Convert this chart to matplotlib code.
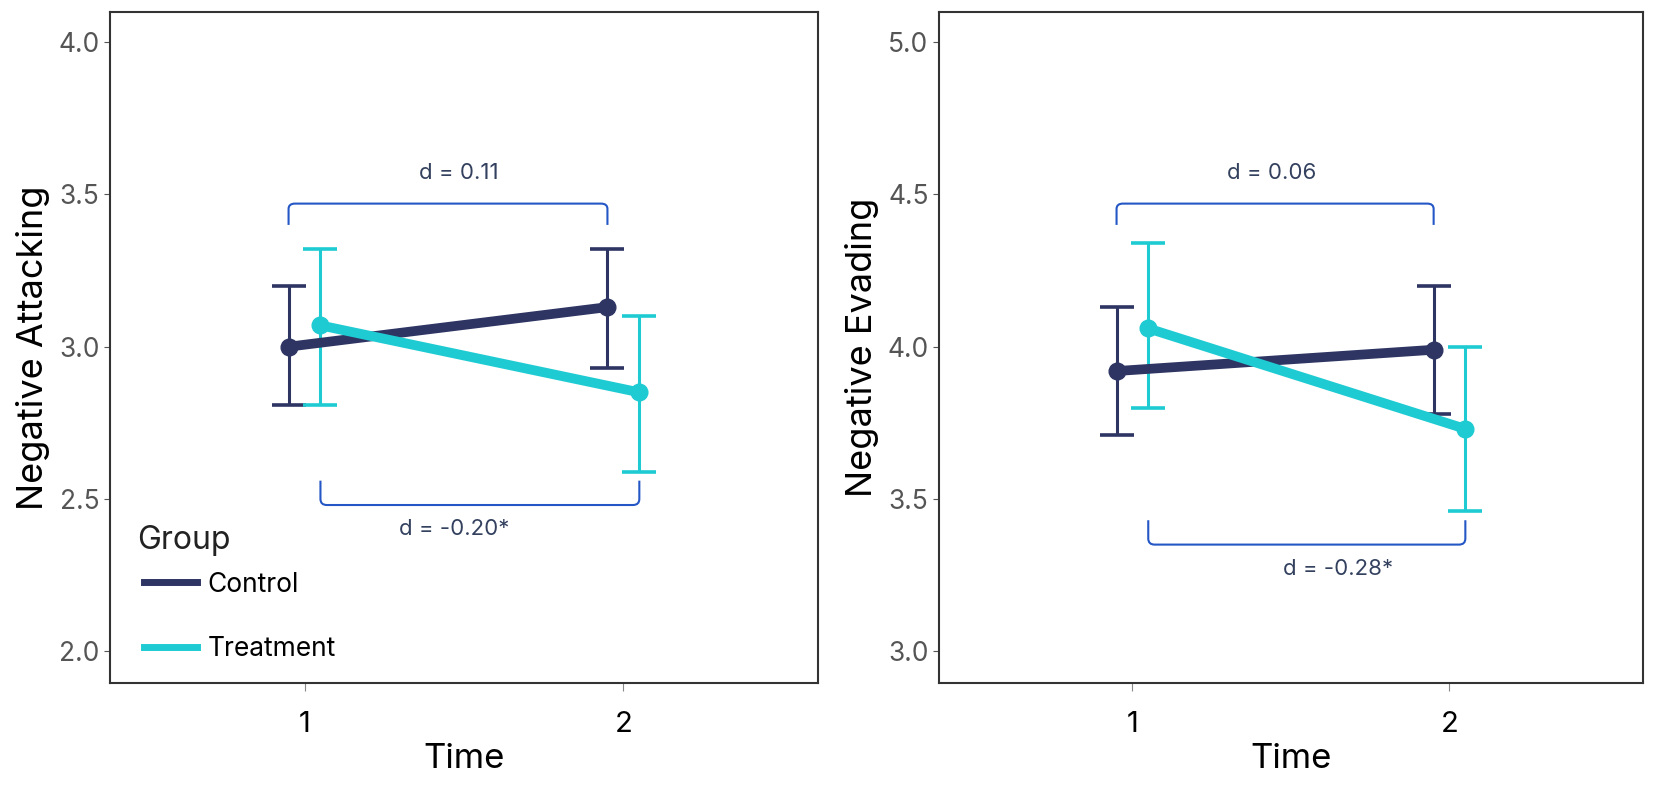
import matplotlib
matplotlib.use("Agg")
import matplotlib.pyplot as plt
from matplotlib.path import Path
import matplotlib.patches as patches

plt.rcParams['font.family'] = ['Inter', 'DejaVu Sans']

# data
times = [1, 2]
groups = ['Control', 'Treatment']

attack_mean = {'Control': [3.00, 3.13], 'Treatment': [3.07, 2.85]}
attack_lo = {'Control': [2.81, 2.93], 'Treatment': [2.81, 2.59]}
attack_hi = {'Control': [3.20, 3.32], 'Treatment': [3.32, 3.10]}

evade_mean = {'Control': [3.92, 3.99], 'Treatment': [4.06, 3.73]}
evade_lo = {'Control': [3.71, 3.78], 'Treatment': [3.80, 3.46]}
evade_hi = {'Control': [4.13, 4.20], 'Treatment': [4.34, 4.00]}

attack_d = ['d = 0.11', 'd = -0.20*']
evade_d = ['d = 0.06', 'd = -0.28*']

colors = {'Control': '#2e3563', 'Treatment': '#1fcbd2'}
offset = {'Control': -0.05, 'Treatment': 0.05}
bracket_col = '#2457c5'
text_col = '#33415f'


def bracket(ax, x0, x1, y, h):
    # bracket with slightly rounded corners; h>0 legs go down, h<0 legs go up
    verts = [(x0, y - h), (x0, y - h * 0.25), (x0, y), (x0 + 0.02, y),
             (x1 - 0.02, y), (x1, y), (x1, y - h * 0.25), (x1, y - h)]
    codes = [Path.MOVETO, Path.LINETO, Path.CURVE3, Path.CURVE3,
             Path.LINETO, Path.CURVE3, Path.CURVE3, Path.LINETO]
    ax.add_patch(patches.PathPatch(Path(verts, codes), fill=False,
                                   edgecolor=bracket_col, lw=1.5))


def panel(ax, mean, lo, hi, ylabel, ylim, yticks, dtext, top_y, bot_y, tpos):
    for g in groups:
        xs = [t + offset[g] for t in times]
        yerr = [[m - l for m, l in zip(mean[g], lo[g])],
                [h - m for m, h in zip(mean[g], hi[g])]]
        ax.errorbar(xs, mean[g], yerr=yerr, fmt='none', ecolor=colors[g],
                    elinewidth=2.2, capsize=12, capthick=2.6, zorder=2)
        ax.plot(xs, mean[g], color=colors[g], lw=7, marker='o',
                markersize=12, label=g, zorder=3)

    bracket(ax, 1 + offset['Control'], 2 + offset['Control'], top_y, 0.07)
    bracket(ax, 1 + offset['Treatment'], 2 + offset['Treatment'], bot_y, -0.08)
    ax.text(tpos[0][0], tpos[0][1], dtext[0], ha='center', va='center',
            fontsize=16, color=text_col)
    ax.text(tpos[1][0], tpos[1][1], dtext[1], ha='center', va='center',
            fontsize=16, color=text_col)

    ax.set_xlim(0.39, 2.61)
    ax.set_ylim(*ylim)
    ax.set_xticks(times)
    ax.set_yticks(yticks)
    ax.set_yticklabels(['%.1f' % v for v in yticks])
    ax.tick_params(axis='y', labelsize=19, colors='#555555', length=4,
                   labelcolor='#555555')
    ax.tick_params(axis='x', labelsize=21, colors='#888888', length=6,
                   labelcolor='black', pad=14)
    ax.set_xlabel('Time', fontsize=25, labelpad=4)
    ax.set_ylabel(ylabel, fontsize=26, labelpad=6)
    for s in ax.spines.values():
        s.set_color('#333333')
        s.set_linewidth(1.5)


fig = plt.figure(figsize=(16.54, 7.87), dpi=100)
ax1 = fig.add_axes([0.0665, 0.132, 0.428, 0.853])
ax2 = fig.add_axes([0.5677, 0.132, 0.4256, 0.853])

panel(ax1, attack_mean, attack_lo, attack_hi, 'Negative Attacking',
      (1.895, 4.10), [2.0, 2.5, 3.0, 3.5, 4.0], attack_d,
      3.47, 2.48, [(1.485, 3.57), (1.47, 2.40)])
panel(ax2, evade_mean, evade_lo, evade_hi, 'Negative Evading',
      (2.895, 5.10), [3.0, 3.5, 4.0, 4.5, 5.0], evade_d,
      4.47, 3.35, [(1.44, 4.57), (1.65, 3.27)])

leg = ax1.legend(loc='lower left', bbox_to_anchor=(0.03, 0.012),
                 frameon=False, fontsize=19,
                 handlelength=2.0, handletextpad=0.4, labelspacing=1.45,
                 borderpad=0)
for h in leg.legend_handles:
    h.set_marker('')
    h.set_linewidth(5)
ax1.text(0.038, 0.213, 'Group', transform=ax1.transAxes, fontsize=23,
         ha='left', va='center', color='#222222')

fig.savefig('out.png', dpi=100)
